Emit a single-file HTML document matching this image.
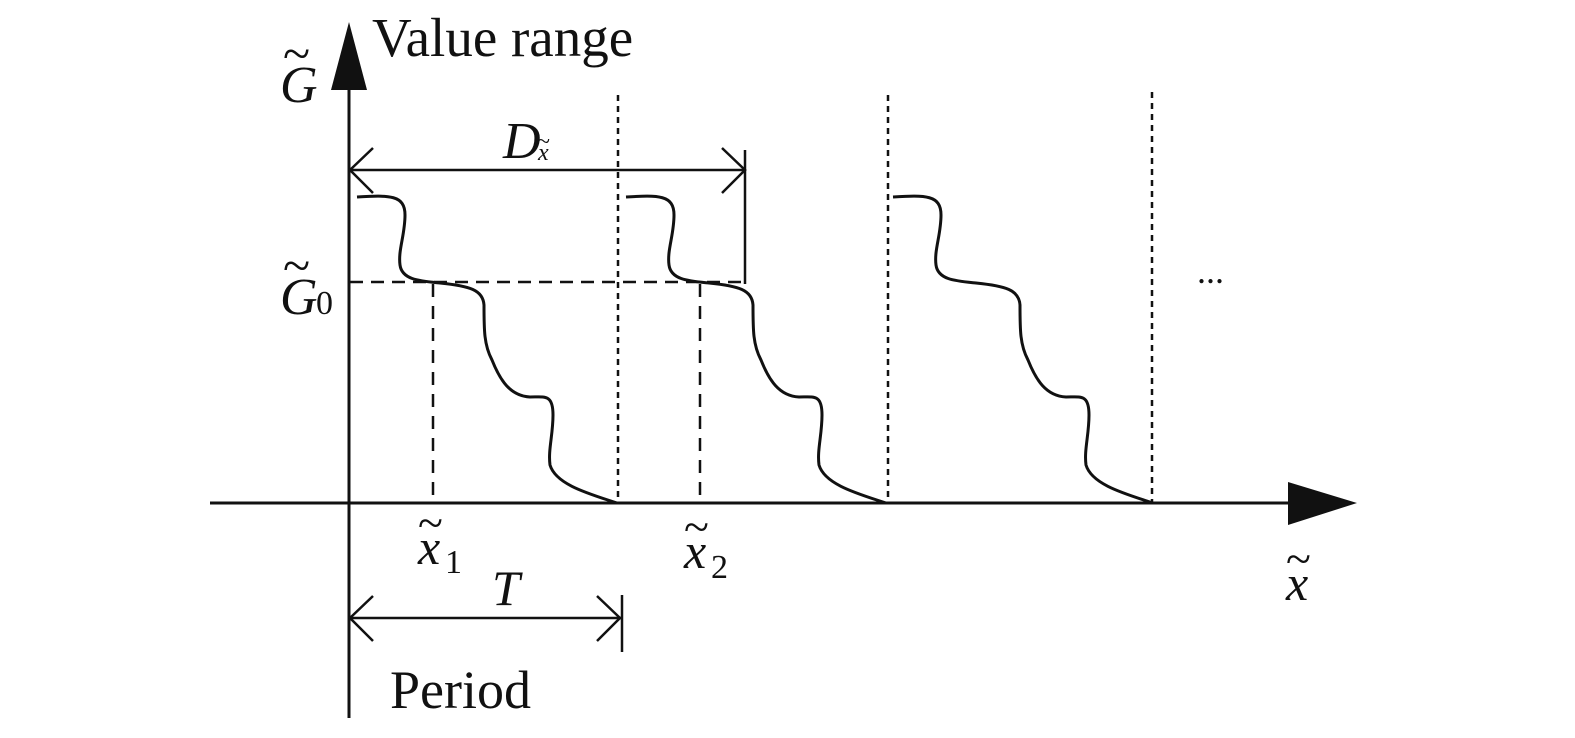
<!DOCTYPE html>
<html><head><meta charset="utf-8"><style>
html,body{margin:0;padding:0;background:#fff}
svg{display:block}
text{font-family:"Liberation Serif",serif;fill:#111}
</style></head><body>
<svg width="1575" height="738" viewBox="0 0 1575 738" xmlns="http://www.w3.org/2000/svg">
<defs>
<path id="c" d="M357,197 C390,195 405,195 405,215 C405,235 398,250 400,265 C402,280 420,281 440,283 C470,286 483,290 484,305 C484,330 484,345 492,360 C500,380 510,396 530,397 C545,397 553,394 553,415 C553,435 548,450 550,465 C556,485 590,494 617,503" fill="none" stroke="#111" stroke-width="3"/>
</defs>
<g stroke="#111" fill="none">
<line x1="349" y1="80" x2="349" y2="718" stroke-width="3"/>
<line x1="210" y1="503" x2="1295" y2="503" stroke-width="3"/>
<line x1="349" y1="170" x2="745" y2="170" stroke-width="2.5"/>
<polyline points="373,148 350,170 373,193" stroke-width="2.5"/>
<polyline points="722,148 745,170 722,193" stroke-width="2.5"/>
<line x1="745" y1="150" x2="745" y2="284" stroke-width="2.5"/>
<line x1="349" y1="618" x2="621" y2="618" stroke-width="2.5"/>
<polyline points="373,596 350,618 373,641" stroke-width="2.5"/>
<polyline points="597,596 620,618 597,641" stroke-width="2.5"/>
<line x1="622" y1="595" x2="622" y2="652" stroke-width="2.5"/>
<line x1="350" y1="282" x2="745" y2="282" stroke-width="2.5" stroke-dasharray="13,8"/>
<line x1="433" y1="284" x2="433" y2="503" stroke-width="2.5" stroke-dasharray="13,9"/>
<line x1="700" y1="284" x2="700" y2="503" stroke-width="2.5" stroke-dasharray="13,9"/>
<line x1="618" y1="95" x2="618" y2="503" stroke-width="2.5" stroke-dasharray="6,5"/>
<line x1="888" y1="95" x2="888" y2="503" stroke-width="2.5" stroke-dasharray="6,5"/>
<line x1="1152" y1="92" x2="1152" y2="503" stroke-width="2.5" stroke-dasharray="6,5"/>
</g>
<polygon points="349,22 331,90 367,90" fill="#111"/>
<polygon points="1357,503 1288,482 1288,525" fill="#111"/>
<use href="#c"/>
<use href="#c" transform="translate(269,0)"/>
<use href="#c" transform="translate(536,0)"/>
<text x="372" y="56" font-size="55">Value range</text>
<text x="280" y="102" font-size="52" font-style="italic">G</text>
<text x="283" y="70" font-size="50">~</text>
<text x="280" y="314" font-size="52" font-style="italic">G</text>
<text x="283" y="282" font-size="50">~</text>
<text x="316" y="314" font-size="34">0</text>
<text x="503" y="158" font-size="52" font-style="italic">D</text>
<text x="538" y="160" font-size="24" font-style="italic">x</text>
<text x="537" y="149" font-size="24">~</text>
<text x="418" y="564" font-size="50" font-style="italic">x</text>
<text x="418" y="538" font-size="46">~</text>
<text x="445" y="573" font-size="34">1</text>
<text x="684" y="568" font-size="50" font-style="italic">x</text>
<text x="684" y="542" font-size="46">~</text>
<text x="711" y="578" font-size="34">2</text>
<text x="1286" y="600" font-size="50" font-style="italic">x</text>
<text x="1286" y="574" font-size="46">~</text>
<text x="492" y="605" font-size="50" font-style="italic">T</text>
<text x="390" y="708" font-size="54">Period</text>
<text x="1197" y="283" font-size="36">...</text>
</svg>
</body></html>
